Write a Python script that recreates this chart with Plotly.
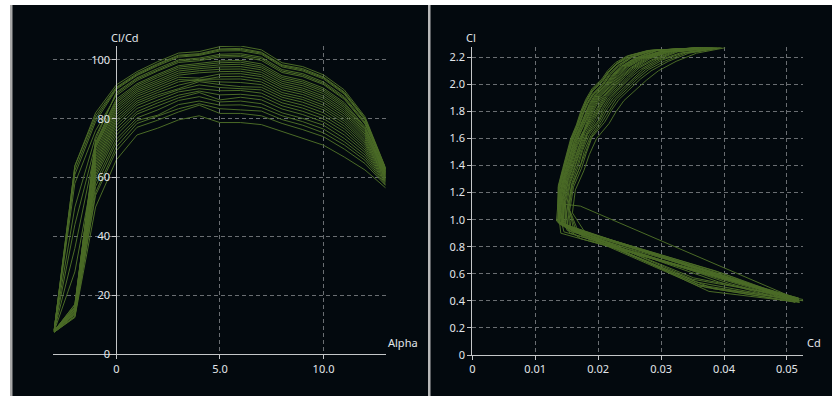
import plotly.graph_objects as go

W, H = 832, 396

# ---------------- data ----------------
# angle of attack (deg); for every polar: Cl and Cl/Cd at each angle
ALPHA = [-3, -2, -1, 0, 1, 2, 3, 4, 5, 6, 7, 8, 9, 10, 11, 12, 13]

cl_01 = [0.39, 0.47, 0.90, 1.05, 1.22, 1.36, 1.48, 1.60, 1.71, 1.80, 1.88, 1.96, 2.03, 2.10, 2.17, 2.23, 2.27]
ld_01 = [7.5, 12.5, 50.0, 66.0, 74.5, 76.8, 79.6, 81.0, 78.7, 78.7, 78.0, 75.6, 73.4, 71.0, 67.0, 62.6, 56.5]
cl_02 = [0.39, 0.53, 0.91, 1.07, 1.24, 1.38, 1.49, 1.61, 1.72, 1.81, 1.89, 1.97, 2.04, 2.10, 2.17, 2.23, 2.27]
ld_02 = [7.5, 13.0, 54.0, 69.1, 77.1, 79.5, 82.3, 84.6, 81.8, 81.8, 81.0, 78.4, 76.3, 73.9, 69.7, 64.8, 57.3]
cl_03 = [0.39, 0.49, 0.91, 1.08, 1.25, 1.38, 1.50, 1.61, 1.72, 1.81, 1.89, 1.97, 2.04, 2.11, 2.17, 2.23, 2.27]
ld_03 = [7.5, 12.8, 55.0, 70.4, 78.4, 80.9, 83.4, 85.1, 83.4, 83.0, 82.6, 79.7, 77.8, 75.2, 71.1, 65.9, 57.6]
cl_04 = [0.39, 0.50, 0.92, 1.10, 1.26, 1.39, 1.51, 1.62, 1.73, 1.82, 1.89, 1.97, 2.04, 2.11, 2.18, 2.23, 2.27]
ld_04 = [7.6, 13.5, 57.0, 71.9, 79.4, 81.2, 84.8, 86.0, 84.6, 84.7, 83.8, 81.0, 79.0, 76.5, 72.2, 66.8, 58.0]
cl_05 = [0.39, 0.54, 0.92, 1.11, 1.27, 1.40, 1.51, 1.63, 1.73, 1.82, 1.90, 1.98, 2.05, 2.11, 2.18, 2.23, 2.27]
ld_05 = [7.6, 13.8, 58.5, 73.0, 80.3, 83.0, 86.2, 87.5, 85.7, 86.0, 85.1, 82.0, 80.1, 77.8, 73.3, 67.7, 58.4]
cl_06 = [0.39, 0.57, 0.93, 1.12, 1.27, 1.41, 1.52, 1.63, 1.74, 1.82, 1.90, 1.98, 2.05, 2.11, 2.18, 2.24, 2.27]
ld_06 = [7.6, 14.0, 60.0, 74.4, 81.6, 84.3, 87.1, 88.9, 86.4, 87.3, 86.4, 83.3, 81.4, 78.9, 74.5, 68.6, 58.7]
cl_07 = [0.40, 0.51, 0.93, 1.12, 1.28, 1.41, 1.52, 1.63, 1.74, 1.83, 1.90, 1.98, 2.05, 2.12, 2.18, 2.24, 2.27]
ld_07 = [7.6, 14.2, 61.0, 75.6, 82.4, 85.4, 88.0, 89.4, 88.1, 88.3, 87.6, 84.4, 82.5, 80.0, 75.6, 69.4, 59.0]
cl_08 = [0.40, 0.52, 0.94, 1.13, 1.29, 1.42, 1.53, 1.64, 1.74, 1.83, 1.91, 1.98, 2.05, 2.12, 2.18, 2.24, 2.27]
ld_08 = [7.7, 14.5, 62.0, 76.7, 83.5, 86.3, 89.1, 90.2, 89.5, 89.6, 88.7, 85.4, 83.6, 81.0, 76.6, 70.2, 59.3]
cl_09 = [0.40, 0.59, 0.94, 1.14, 1.29, 1.42, 1.53, 1.64, 1.75, 1.83, 1.91, 1.99, 2.06, 2.12, 2.19, 2.24, 2.27]
ld_09 = [7.7, 14.8, 63.0, 77.8, 84.5, 87.4, 89.8, 91.5, 90.6, 90.3, 89.8, 86.4, 84.6, 82.0, 77.5, 71.0, 59.6]
cl_10 = [0.40, 0.60, 0.95, 1.15, 1.30, 1.43, 1.54, 1.65, 1.75, 1.84, 1.91, 1.99, 2.06, 2.12, 2.19, 2.24, 2.27]
ld_10 = [7.7, 15.0, 64.0, 78.8, 85.3, 88.1, 90.2, 92.6, 91.6, 90.9, 90.7, 87.3, 85.6, 83.0, 78.4, 71.7, 59.9]
cl_11 = [0.40, 0.54, 0.95, 1.15, 1.30, 1.44, 1.55, 1.65, 1.75, 1.84, 1.91, 1.99, 2.06, 2.12, 2.19, 2.24, 2.27]
ld_11 = [7.7, 15.2, 65.0, 79.6, 86.0, 88.9, 91.4, 93.0, 92.5, 92.3, 91.6, 88.1, 86.5, 83.8, 79.2, 72.3, 60.1]
cl_12 = [0.40, 0.74, 0.96, 1.16, 1.31, 1.44, 1.55, 1.66, 1.76, 1.84, 1.91, 1.99, 2.06, 2.12, 2.19, 2.24, 2.27]
ld_12 = [7.8, 28.0, 66.0, 80.5, 86.8, 89.7, 92.5, 93.4, 93.4, 93.5, 92.5, 88.9, 87.3, 84.6, 80.0, 72.9, 60.3]
cl_13 = [0.40, 0.61, 0.96, 1.17, 1.31, 1.44, 1.55, 1.66, 1.76, 1.84, 1.92, 1.99, 2.06, 2.13, 2.19, 2.24, 2.27]
ld_13 = [7.8, 15.8, 67.0, 81.4, 87.6, 90.5, 93.3, 93.0, 94.3, 94.4, 93.4, 89.8, 88.2, 85.5, 80.8, 73.6, 60.6]
cl_14 = [0.40, 0.62, 0.96, 1.18, 1.32, 1.45, 1.56, 1.66, 1.76, 1.84, 1.92, 1.99, 2.06, 2.13, 2.19, 2.24, 2.27]
ld_14 = [7.8, 16.0, 68.0, 82.3, 88.3, 91.3, 94.1, 93.8, 95.2, 95.3, 94.3, 90.6, 89.0, 86.3, 81.6, 74.2, 60.8]
cl_15 = [0.41, 0.57, 0.97, 1.18, 1.32, 1.45, 1.56, 1.67, 1.76, 1.85, 1.92, 2.00, 2.07, 2.13, 2.19, 2.24, 2.27]
ld_15 = [7.8, 16.2, 69.0, 83.1, 89.0, 92.0, 94.8, 95.6, 96.0, 96.1, 95.0, 91.3, 89.7, 87.0, 82.3, 74.8, 61.0]
cl_16 = [0.41, 0.80, 0.97, 1.19, 1.33, 1.46, 1.56, 1.67, 1.77, 1.85, 1.92, 2.00, 2.07, 2.13, 2.19, 2.24, 2.27]
ld_16 = [7.9, 36.0, 70.0, 83.9, 89.6, 92.6, 95.5, 96.3, 96.8, 96.9, 95.8, 92.0, 90.4, 87.7, 83.0, 75.3, 61.2]
cl_17 = [0.41, 0.62, 0.97, 1.19, 1.33, 1.46, 1.57, 1.67, 1.77, 1.85, 1.92, 2.00, 2.07, 2.13, 2.19, 2.24, 2.27]
ld_17 = [7.9, 16.8, 70.5, 84.6, 90.2, 93.3, 96.2, 97.0, 97.6, 97.7, 96.6, 92.7, 91.2, 88.5, 83.7, 75.9, 61.4]
cl_18 = [0.41, 0.62, 0.98, 1.20, 1.34, 1.47, 1.57, 1.68, 1.77, 1.85, 1.93, 2.00, 2.07, 2.13, 2.19, 2.25, 2.27]
ld_18 = [7.9, 17.0, 71.0, 85.4, 90.8, 94.0, 96.9, 97.6, 98.3, 98.5, 97.3, 93.4, 91.9, 89.2, 84.3, 76.4, 61.6]
cl_19 = [0.41, 0.84, 0.98, 1.20, 1.34, 1.47, 1.57, 1.68, 1.77, 1.85, 1.93, 2.00, 2.07, 2.13, 2.19, 2.25, 2.27]
ld_19 = [8.0, 44.0, 71.5, 86.0, 91.4, 94.6, 97.5, 98.2, 99.0, 99.2, 97.9, 94.0, 92.5, 89.8, 84.9, 76.9, 61.8]
cl_20 = [0.41, 0.60, 0.98, 1.21, 1.35, 1.47, 1.58, 1.68, 1.77, 1.86, 1.93, 2.00, 2.07, 2.13, 2.19, 2.25, 2.27]
ld_20 = [8.0, 15.5, 72.0, 86.7, 91.9, 95.1, 98.0, 98.7, 99.6, 99.8, 98.6, 94.6, 93.1, 90.4, 85.5, 77.3, 61.9]
cl_21 = [0.41, 0.90, 1.06, 1.22, 1.36, 1.48, 1.58, 1.69, 1.78, 1.86, 1.93, 2.00, 2.07, 2.13, 2.20, 2.25, 2.27]
ld_21 = [8.0, 58.0, 76.0, 87.9, 93.0, 96.2, 99.1, 99.7, 100.9, 101.1, 99.8, 95.7, 94.3, 91.6, 86.6, 78.2, 62.3]
cl_22 = [0.42, 0.86, 0.99, 1.22, 1.36, 1.48, 1.59, 1.69, 1.78, 1.86, 1.93, 2.00, 2.07, 2.14, 2.20, 2.25, 2.27]
ld_22 = [8.1, 50.0, 74.0, 88.5, 93.5, 96.6, 99.6, 100.2, 101.4, 101.6, 100.4, 96.2, 94.8, 92.0, 87.0, 78.5, 62.4]
cl_23 = [0.42, 0.56, 0.99, 1.23, 1.36, 1.49, 1.59, 1.69, 1.78, 1.86, 1.93, 2.01, 2.08, 2.14, 2.20, 2.25, 2.27]
ld_23 = [8.1, 16.0, 73.0, 89.0, 93.9, 97.1, 100.0, 100.6, 101.9, 102.1, 100.9, 96.7, 95.3, 92.5, 87.5, 78.9, 62.5]
cl_24 = [0.42, 0.92, 1.08, 1.24, 1.37, 1.49, 1.59, 1.69, 1.79, 1.87, 1.95, 2.02, 2.09, 2.15, 2.20, 2.25, 2.27]
ld_24 = [8.1, 61.0, 79.0, 90.0, 94.7, 98.0, 100.9, 101.5, 103.0, 103.1, 101.9, 97.6, 96.2, 93.5, 88.4, 79.6, 62.8]
cl_25 = [0.42, 0.91, 1.09, 1.24, 1.38, 1.50, 1.60, 1.70, 1.80, 1.88, 1.96, 2.03, 2.09, 2.15, 2.21, 2.25, 2.27]
ld_25 = [8.2, 62.5, 80.0, 90.4, 95.0, 98.4, 101.3, 101.8, 103.4, 103.5, 102.3, 98.0, 96.6, 93.9, 88.8, 79.9, 62.9]
cl_26 = [0.42, 0.90, 1.10, 1.24, 1.38, 1.50, 1.60, 1.70, 1.80, 1.88, 1.96, 2.03, 2.09, 2.15, 2.21, 2.25, 2.27]
ld_26 = [8.2, 64.0, 81.0, 90.7, 95.4, 98.7, 101.6, 102.1, 103.7, 103.9, 102.6, 98.3, 97.0, 94.2, 89.1, 80.2, 63.0]
cl_27 = [0.42, 1.10, 1.12, 1.25, 1.38, 1.50, 1.60, 1.70, 1.80, 1.89, 1.97, 2.04, 2.10, 2.16, 2.21, 2.25, 2.27]
ld_27 = [8.2, 64.0, 82.0, 91.5, 96.0, 99.4, 102.3, 102.8, 104.5, 104.7, 103.4, 99.0, 97.7, 94.9, 89.8, 80.7, 63.2]

POLARS = [(cl_01, ld_01), (cl_02, ld_02), (cl_03, ld_03), (cl_04, ld_04),
          (cl_05, ld_05), (cl_06, ld_06), (cl_07, ld_07), (cl_08, ld_08),
          (cl_09, ld_09), (cl_10, ld_10), (cl_11, ld_11), (cl_12, ld_12),
          (cl_13, ld_13), (cl_14, ld_14), (cl_15, ld_15), (cl_16, ld_16),
          (cl_17, ld_17), (cl_18, ld_18), (cl_19, ld_19), (cl_20, ld_20),
          (cl_21, ld_21), (cl_22, ld_22), (cl_23, ld_23), (cl_24, ld_24),
          (cl_25, ld_25), (cl_26, ld_26), (cl_27, ld_27)]

LEFT_X_TICKS = [0, 5, 10]
LEFT_X_TEXT = ["0", "5.0", "10.0"]
LEFT_Y_TICKS = [0, 20, 40, 60, 80, 100]
LEFT_Y_TEXT = ["0", "20", "40", "60", "80", "100"]
RIGHT_X_TICKS = [0, 0.01, 0.02, 0.03, 0.04, 0.05]
RIGHT_X_TEXT = ["0", "0.01", "0.02", "0.03", "0.04", "0.05"]
RIGHT_Y_TICKS = [0, 0.2, 0.4, 0.6, 0.8, 1.0, 1.2, 1.4, 1.6, 1.8, 2.0, 2.2]
RIGHT_Y_TEXT = ["0", "0.2", "0.4", "0.6", "0.8", "1.0", "1.2", "1.4", "1.6", "1.8", "2.0", "2.2"]

# ---------------- style ----------------
BG = "#03090e"
LINE = "#4b6b27"
GRID = "#6a6e72"
AXIS = "#c4c6c8"
TEXT = "#e2e6ea"
FONT = "Noto Sans"


def px(x):
    return x / W


def py(y):
    return 1 - y / H


fig = go.Figure()

for cl, ld in POLARS:
    fig.add_trace(go.Scatter(x=ALPHA, y=ld, mode="lines",
                             line=dict(color=LINE, width=1),
                             xaxis="x", yaxis="y", hoverinfo="skip",
                             showlegend=False))

for cl, ld in POLARS:
    cd = [c / r for c, r in zip(cl, ld)]
    fig.add_trace(go.Scatter(x=cd, y=cl, mode="lines",
                             line=dict(color=LINE, width=1),
                             xaxis="x2", yaxis="y2", hoverinfo="skip",
                             showlegend=False))

tickfont = dict(family=FONT, size=11, color=TEXT)
common = dict(showline=True, linecolor=AXIS, linewidth=1, ticks="outside",
              ticklen=4, tickwidth=1, tickcolor=AXIS, showgrid=True,
              gridcolor=GRID, gridwidth=1, griddash="4px,3px",
              zeroline=False, tickfont=tickfont, fixedrange=True,
              automargin=False)

fig.update_layout(
    width=W, height=H, autosize=False,
    margin=dict(l=0, r=0, t=0, b=0, pad=0),
    paper_bgcolor=BG, plot_bgcolor=BG,
    showlegend=False,
    xaxis=dict(domain=[px(53.3), px(385.7)], range=[-3.04, 13.0], anchor="y",
               tickmode="array", tickvals=LEFT_X_TICKS, ticktext=LEFT_X_TEXT,
               **common),
    yaxis=dict(domain=[py(354.3), py(46)], range=[0, 104.7], anchor="free",
               position=px(116.3),
               tickmode="array", tickvals=LEFT_Y_TICKS, ticktext=LEFT_Y_TEXT,
               **common),
    xaxis2=dict(domain=[px(472.3), px(803.3)], range=[0, 0.0526], anchor="y2",
                tickmode="array", tickvals=RIGHT_X_TICKS, ticktext=RIGHT_X_TEXT,
                **common),
    yaxis2=dict(domain=[py(355), py(46.7)], range=[0, 2.278], anchor="x2",
                tickmode="array", tickvals=RIGHT_Y_TICKS, ticktext=RIGHT_Y_TEXT,
                **common),
)

titles = [("Cl/Cd", 125, 38), ("Alpha", 403, 342), ("Cl", 471.5, 38), ("Cd", 814, 342)]
for text, x, y in titles:
    fig.add_annotation(text=text, x=px(x), y=py(y), xref="paper", yref="paper",
                       xanchor="center", yanchor="middle", showarrow=False,
                       font=dict(family=FONT, size=11, color=TEXT))

frame = [
    (0, 0, 10, H, "#ffffff"),
    (0, 0, W, 5, "#ffffff"),
    (10, 5, 12.5, H, "#a8a8a8"),
    (428, 5, 430.5, H, "#b8b8b8"),
]
for x0, y0, x1, y1, col in frame:
    fig.add_shape(type="rect", xref="paper", yref="paper",
                  x0=px(x0), x1=px(x1), y0=py(y1), y1=py(y0),
                  fillcolor=col, line=dict(width=0), layer="above")

fig.write_html("out.html", include_plotlyjs=True,
               config={"displayModeBar": False, "staticPlot": True},
               post_script="document.body.style.margin='0';document.body.style.padding='0';document.body.style.background='%s';" % BG)
